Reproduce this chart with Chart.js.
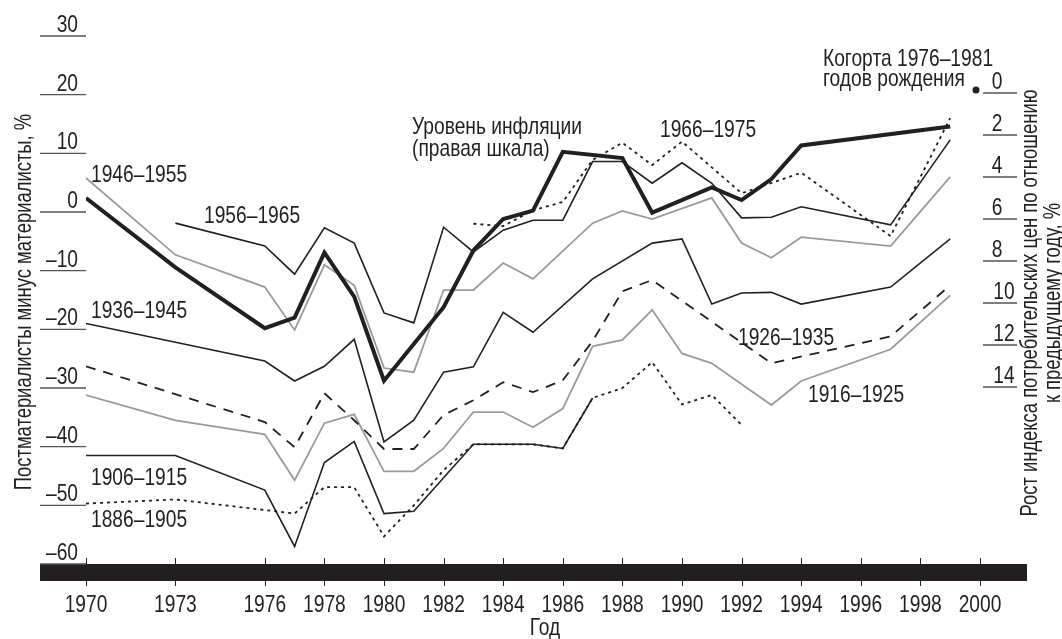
<!DOCTYPE html>
<html lang="ru">
<head>
<meta charset="utf-8">
<script src="https://cdn.jsdelivr.net/npm/chart.js@4"></script>
<style>
  html, body { margin: 0; padding: 0; background: #fff; }
  #wrap { width: 1062px; height: 639px; }
</style>
</head>
<body>
<div id="wrap"><canvas id="chart" width="1062" height="639"></canvas></div>
<script>
// --- data ---
const yearsInfl = [1970, 1973, 1976, 1977, 1978, 1979, 1980, 1982, 1983, 1984, 1985, 1986, 1988, 1989, 1991, 1992, 1993, 1994, 1999];
const inflation = [5.0, 8.3, 11.2, 10.7, 7.6, 9.7, 13.7, 10.2, 7.5, 6.0, 5.6, 2.8, 3.1, 5.7, 4.5, 5.1, 4.1, 2.5, 1.6];

const years1886 = [1970, 1973, 1977, 1978, 1979, 1980, 1981, 1982, 1983, 1984, 1985, 1986, 1987, 1988, 1989, 1990, 1991, 1992];
const c1886 = [-49.7, -49.0, -51.4, -46.9, -46.9, -55.3, -50.0, -44.0, -39.6, -39.6, -39.6, -40.3, -31.7, -30.0, -25.6, -32.8, -31.2, -36.3];

const years1906 = [1970, 1973, 1976, 1977, 1978, 1979, 1980, 1981, 1983, 1984, 1985, 1986, 1987];
const c1906 = [-41.5, -41.5, -47.4, -57.0, -42.7, -39.1, -51.4, -51.0, -39.6, -39.6, -39.6, -40.3, -31.7];

const years1916 = [1970, 1973, 1976, 1977, 1978, 1979, 1980, 1981, 1982, 1983, 1984, 1985, 1986, 1987, 1988, 1989, 1990, 1991, 1993, 1994, 1997, 1999];
const c1916 = [-31.2, -35.5, -37.9, -45.7, -36.0, -34.5, -44.2, -44.2, -40.3, -34.1, -34.1, -36.7, -33.5, -22.9, -21.8, -16.7, -24.1, -25.8, -32.9, -28.8, -23.4, -14.2];

const years1926 = [1970, 1976, 1977, 1978, 1979, 1980, 1981, 1982, 1983, 1984, 1985, 1986, 1987, 1988, 1989, 1993, 1997, 1999];
const c1926 = [-26.3, -35.8, -40.1, -30.9, -35.5, -40.4, -40.4, -34.6, -32.1, -29.0, -30.7, -28.7, -22.0, -13.5, -11.6, -25.8, -21.2, -12.5];

const years1936 = [1970, 1976, 1977, 1978, 1979, 1980, 1981, 1982, 1983, 1984, 1985, 1987, 1989, 1990, 1991, 1992, 1993, 1994, 1997, 1999];
const c1936 = [-19.0, -25.4, -28.8, -26.3, -21.7, -39.2, -35.5, -27.3, -26.4, -17.1, -20.5, -11.4, -5.3, -4.6, -15.7, -13.8, -13.7, -15.7, -12.8, -4.6];

const years1946 = [1970, 1973, 1976, 1977, 1978, 1979, 1980, 1981, 1982, 1983, 1984, 1985, 1987, 1988, 1989, 1991, 1992, 1993, 1994, 1997, 1999];
const c1946 = [5.8, -7.3, -12.8, -20.1, -9.0, -12.5, -26.6, -27.3, -13.3, -13.3, -8.7, -11.4, -1.9, 0.2, -1.2, 2.4, -5.3, -7.8, -4.3, -5.8, 6.0];

const years1956 = [1973, 1976, 1977, 1978, 1979, 1980, 1981, 1982, 1983, 1984, 1985, 1986, 1987, 1988, 1989, 1990, 1991, 1992, 1993, 1994, 1997, 1999];
const c1956 = [-1.9, -5.8, -10.6, -2.7, -5.3, -17.2, -18.9, -2.6, -6.8, -3.1, -1.4, -1.4, 8.6, 8.6, 4.9, 8.4, 4.9, -1.0, -0.9, 0.9, -2.2, 12.3];

const years1966 = [1983, 1984, 1985, 1986, 1987, 1988, 1989, 1990, 1992, 1994, 1997, 1999];
const c1966 = [-2.0, -2.4, 0.3, 1.7, 8.9, 11.8, 8.0, 12.0, 3.2, 6.7, -4.1, 16.0];

// axis ticks
const xTickYears = [1970, 1973, 1976, 1978, 1980, 1982, 1984, 1986, 1988, 1990, 1992, 1994, 1996, 1998, 2000];
const leftTicks = [30, 20, 10, 0, -10, -20, -30, -40, -50, -60];
const rightTicks = [0, 2, 4, 6, 8, 10, 12, 14];

const FONT = '"Liberation Sans", Arial, sans-serif';
const NARROW = 0.8;   // no condensed face installed, squeeze by hand
const INK = '#231f20';
const GREY = '#9a9a9a';

function pts(years, vals) {
    return years.map((y, i) => ({ x: y, y: vals[i] }));
}

function neg(v) {
    return v < 0 ? '\u2013' + Math.abs(v) : String(v);
}

// condensed text: x/y is the anchor, align as in canvas
function txt(ctx, s, x, y, align, rot) {
    ctx.save();
    ctx.translate(x, y);
    if (rot) ctx.rotate(rot);
    ctx.scale(NARROW, 1);
    ctx.textAlign = align || 'left';
    ctx.fillText(s, 0, 0);
    ctx.restore();
}

// text labels placed on the plot (pixel positions, left / baseline)
const notes = [
    { t: '1946\u20131955', x: 91, y: 182 },
    { t: '1956\u20131965', x: 204, y: 223 },
    { t: '1936\u20131945', x: 91, y: 318 },
    { t: '1906\u20131915', x: 91, y: 485 },
    { t: '1886\u20131905', x: 91, y: 527 },
    { t: 'Уровень инфляции', x: 412, y: 134 },
    { t: '(правая шкала)', x: 412, y: 156 },
    { t: '1966\u20131975', x: 660, y: 137 },
    { t: 'Когорта 1976\u20131981', x: 823, y: 66 },
    { t: 'годов рождения', x: 823, y: 86 },
    { t: '1926\u20131935', x: 738, y: 345 },
    { t: '1916\u20131925', x: 808, y: 402 }
];

const decor = {
    id: 'decor',
    beforeDatasetsDraw(chart) {
        const ctx = chart.ctx;
        const xs = chart.scales.x, yl = chart.scales.y, yr = chart.scales.y2;
        const base = yl.getPixelForValue(-60);
        ctx.save();
        // black band along the bottom
        ctx.fillStyle = INK;
        ctx.fillRect(40, base, 987, 17);
        // x ticks
        ctx.strokeStyle = INK;
        ctx.lineWidth = 1;
        ctx.beginPath();
        xTickYears.forEach(yr0 => {
            const px = Math.round(xs.getPixelForValue(yr0)) + 0.5;
            ctx.moveTo(px, base - 6);
            ctx.lineTo(px, base + 22);
        });
        ctx.stroke();
        // left ticks
        ctx.strokeStyle = '#555';
        ctx.lineWidth = 1.4;
        ctx.beginPath();
        leftTicks.forEach(v => {
            const py = yl.getPixelForValue(v);
            ctx.moveTo(40, py);
            ctx.lineTo(86, py);
        });
        // right ticks
        rightTicks.forEach(v => {
            const py = yr.getPixelForValue(v);
            ctx.moveTo(983, py);
            ctx.lineTo(1017, py);
        });
        ctx.stroke();
        ctx.restore();
    },
    afterDraw(chart) {
        const ctx = chart.ctx;
        const xs = chart.scales.x, yl = chart.scales.y, yr = chart.scales.y2;
        ctx.save();
        ctx.fillStyle = INK;
        ctx.font = '24px ' + FONT;
        ctx.textBaseline = 'alphabetic';

        // x tick labels
        xTickYears.forEach(yr0 => {
            txt(ctx, String(yr0), xs.getPixelForValue(yr0), 612, 'center');
        });
        txt(ctx, 'Год', xs.getPixelForValue(1985.4), 635, 'center');

        // left labels
        leftTicks.forEach(v => {
            txt(ctx, neg(v), 78, yl.getPixelForValue(v) - 4, 'right');
        });
        // right labels
        rightTicks.forEach(v => {
            txt(ctx, String(v), v >= 10 ? 1004 : 997, yr.getPixelForValue(v) - 4, 'center');
        });

        // notes
        notes.forEach(n => txt(ctx, n.t, n.x, n.y, 'left'));
        ctx.beginPath();
        ctx.arc(976, 90, 3.5, 0, Math.PI * 2);
        ctx.fill();

        // axis titles
        ctx.font = '23px ' + FONT;
        txt(ctx, 'Постматериалисты минус материалисты, %', 31, 302, 'center', -Math.PI / 2);
        txt(ctx, 'Рост индекса потребительских цен по отношению', 1037, 303, 'center', -Math.PI / 2);
        txt(ctx, 'к предыдущему году, %', 1060, 303, 'center', -Math.PI / 2);
        ctx.restore();
    }
};

function series(label, data, color, width, dash, axis) {
    return {
        label: label,
        data: data,
        borderColor: color,
        borderWidth: width,
        borderDash: dash || [],
        yAxisID: axis || 'y',
        pointRadius: 0,
        tension: 0,
        fill: false,
        borderJoinStyle: 'miter',
        spanGaps: true
    };
}

new Chart(document.getElementById('chart'), {
    type: 'line',
    data: {
        datasets: [
            series('Уровень инфляции', pts(yearsInfl, inflation), INK, 4, null, 'y2'),
            series('1966–1975', pts(years1966, c1966), INK, 1.8, [3, 4]),
            series('1956–1965', pts(years1956, c1956), INK, 1.6),
            series('1946–1955', pts(years1946, c1946), GREY, 1.8),
            series('1936–1945', pts(years1936, c1936), INK, 1.6),
            series('1926–1935', pts(years1926, c1926), INK, 1.8, [10, 8]),
            series('1916–1925', pts(years1916, c1916), GREY, 1.8),
            series('1906–1915', pts(years1906, c1906), INK, 1.6),
            series('1886–1905', pts(years1886, c1886), INK, 1.8, [3, 4])
        ]
    },
    options: {
        responsive: false,
        animation: false,
        layout: { padding: { left: 86, right: 82, top: 36, bottom: 75 } },
        plugins: {
            legend: { display: false },
            tooltip: { enabled: false }
        },
        scales: {
            x: { type: 'linear', min: 1970, max: 2000, display: false },
            y: { min: -60, max: 30, display: false },
            y2: { min: -2.714, max: 22.43, reverse: true, display: false, position: 'right' }
        }
    },
    plugins: [decor]
});
</script>
</body>
</html>
